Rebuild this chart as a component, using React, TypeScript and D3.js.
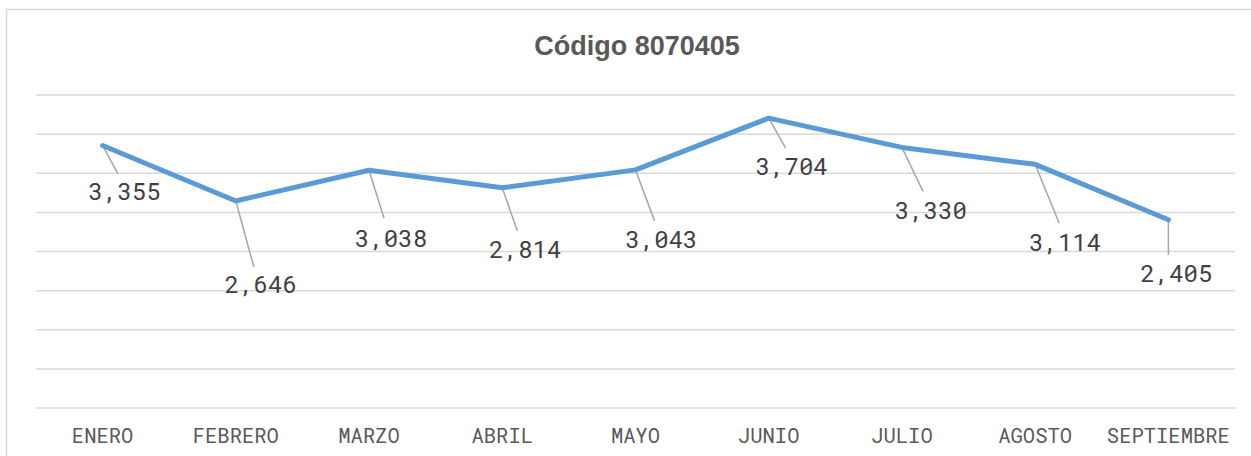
import React from 'react';
import * as d3 from 'd3';

const months = ['ENERO', 'FEBRERO', 'MARZO', 'ABRIL', 'MAYO', 'JUNIO', 'JULIO', 'AGOSTO', 'SEPTIEMBRE'];
const values = [3355, 2646, 3038, 2814, 3043, 3704, 3330, 3114, 2405];
const gridTicks = [0, 500, 1000, 1500, 2000, 2500, 3000, 3500, 4000];

// where each data label sits relative to its point (layout only)
const labelOffsets = [
  {dx: 22, dy: 55, lx: 15, ly: 28},
  {dx: 25, dy: 92, lx: 18, ly: 66},
  {dx: 22, dy: 77, lx: 15, ly: 48},
  {dx: 23, dy: 70, lx: 15, ly: 43},
  {dx: 26, dy: 78, lx: 19, ly: 51},
  {dx: 23, dy: 57, lx: 17, ly: 30},
  {dx: 29, dy: 72, lx: 21, ly: 44},
  {dx: 30, dy: 87, lx: 24, ly: 59},
  {dx: 8, dy: 62, lx: 0, ly: 35},
];

const W = 1251;
const H = 456;
const mono = '"Roboto Mono", "Liberation Mono", "DejaVu Sans Mono", monospace';

export default function App() {
  const x = d3.scalePoint<string>().domain(months).range([36, 1235]).padding(0.5);
  const y = d3.scaleLinear().domain([0, 4000]).range([408, 95]);
  const line = d3.line<number>().x((_, i) => x(months[i])!).y(d => y(d));

  return (
    <svg width={W} height={H} style={{position: 'absolute', left: 0, top: 0, background: '#fff'}}>
      <rect x={6.5} y={9.5} width={W + 20} height={H + 20} fill="#fff" stroke="#d9d9d9" strokeWidth={1.5} />
      <text x={637} y={55} textAnchor="middle" fontFamily='"Liberation Sans", Arial, sans-serif'
        fontWeight="bold" fontSize={27} fill="#595959">Código 8070405</text>
      {gridTicks.map(t => (
        <line key={t} x1={36} x2={1235} y1={y(t)} y2={y(t)} stroke="#d9d9d9" strokeWidth={1.5} />
      ))}
      {months.map(m => (
        <text key={m} x={x(m)} y={443} textAnchor="middle" fontFamily={mono} fontSize={20.5} fill="#595959">{m}</text>
      ))}
      {values.map((v, i) => {
        const px = x(months[i])!;
        const py = y(v);
        const o = labelOffsets[i];
        return (
          <line key={'l' + i} x1={px} y1={py} x2={px + o.lx} y2={py + o.ly} stroke="#a6a6a6" strokeWidth={1.5} />
        );
      })}
      <path d={line(values)!} fill="none" stroke="#5b9bd5" strokeWidth={5} strokeLinejoin="round" strokeLinecap="round" />
      {values.map((v, i) => {
        const px = x(months[i])!;
        const py = y(v);
        const o = labelOffsets[i];
        return (
          <text key={'t' + i} x={px + o.dx} y={py + o.dy} textAnchor="middle" fontFamily={mono}
            fontSize={24} fill="#404040">{d3.format(',')(v)}</text>
        );
      })}
    </svg>
  );
}
